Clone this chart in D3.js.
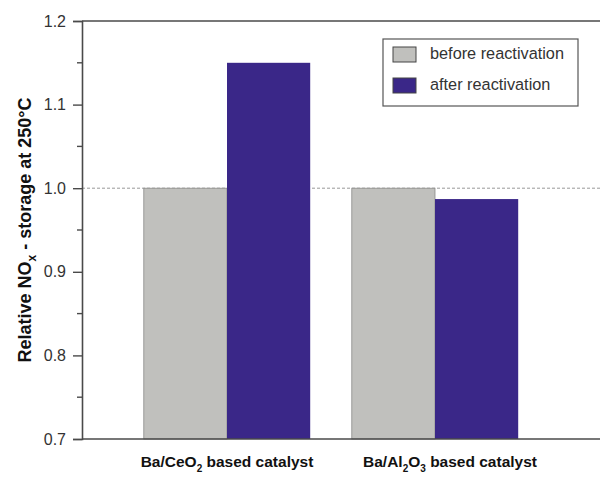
<!DOCTYPE html>
<html>
<head>
<meta charset="utf-8">
<script src="https://cdn.jsdelivr.net/npm/d3@7"></script>
<style>
  body { margin: 0; background: #fff; }
  svg { font-family: "Liberation Sans", Arial, sans-serif; }
</style>
</head>
<body>
<svg width="600" height="483"></svg>
<script>
// data
let catalysts = ["Ba/CeO2", "Ba/Al2O3"];
let series = ["before reactivation", "after reactivation"];
let before = [1.0, 1.0];
let after = [1.15, 0.987];
let yTicks = [0.7, 0.8, 0.9, 1.0, 1.1, 1.2];
let yMinorTicks = [0.75, 0.85, 0.95, 1.05, 1.15];

let colors = { "before reactivation": "#c0c0bd", "after reactivation": "#3a2788" };

let svg = d3.select("svg");

let margin = { top: 21, right: 0, bottom: 44, left: 82 };
let width = 600, height = 483;
let plotHeight = height - margin.top - margin.bottom;

// y scale
let y = d3.scaleLinear()
  .domain([0.7, 1.2])
  .range([height - margin.bottom, margin.top]);

// group scale and series scale
let x = d3.scaleBand()
  .domain(catalysts)
  .range([123, 539])
  .paddingInner(0.2)
  .paddingOuter(0.1);

let xs = d3.scaleBand()
  .domain(series)
  .range([0, x.bandwidth()])
  .padding(0);

// reference dashed line at 1.0
svg.append("line")
  .attr("x1", margin.left).attr("x2", width)
  .attr("y1", y(1.0)).attr("y2", y(1.0))
  .attr("stroke", "#999")
  .attr("stroke-width", 1)
  .attr("stroke-dasharray", "3,2");

// bars
let rows = catalysts.map((c, i) => ({ cat: c, values: [before[i], after[i]] }));

let groups = svg.append("g").selectAll("g")
  .data(rows)
  .join("g")
  .attr("transform", d => "translate(" + x(d.cat) + ",0)");

groups.selectAll("rect")
  .data(d => d.values.map((v, j) => ({ s: series[j], v: v })))
  .join("rect")
  .attr("x", d => xs(d.s))
  .attr("width", xs.bandwidth())
  .attr("y", d => y(d.v))
  .attr("height", d => y(0.7) - y(d.v))
  .attr("fill", d => colors[d.s])
  .attr("stroke", d => d.s == series[0] ? "#8a8a88" : "none")
  .attr("stroke-width", 0.8);

// y axis
let yAxis = d3.axisLeft(y)
  .tickValues(yTicks)
  .tickFormat(d3.format(".1f"))
  .tickSize(9)
  .tickPadding(7);

let yGroup = svg.append("g")
  .attr("transform", "translate(" + margin.left + ",0)")
  .call(yAxis);

yGroup.select(".domain").attr("stroke", "#4a4a4a").attr("stroke-width", 1.6);
yGroup.selectAll(".tick line").attr("stroke", "#4a4a4a").attr("stroke-width", 1.4);
yGroup.selectAll(".tick text")
  .attr("font-size", 16)
  .attr("fill", "#333")
  .attr("font-family", "Liberation Sans, Arial, sans-serif");

// minor ticks
svg.append("g").selectAll("line")
  .data(yMinorTicks)
  .join("line")
  .attr("x1", margin.left - 5).attr("x2", margin.left)
  .attr("y1", d => y(d)).attr("y2", d => y(d))
  .attr("stroke", "#4a4a4a")
  .attr("stroke-width", 1.4);

// top frame and bottom axis line
svg.append("line")
  .attr("x1", margin.left).attr("x2", width)
  .attr("y1", y(1.2)).attr("y2", y(1.2))
  .attr("stroke", "#4a4a4a").attr("stroke-width", 1.6);

svg.append("line")
  .attr("x1", margin.left).attr("x2", width)
  .attr("y1", y(0.7)).attr("y2", y(0.7))
  .attr("stroke", "#4a4a4a").attr("stroke-width", 1.6);

// y label with subscript
let yLabel = svg.append("text")
  .attr("transform", "translate(31," + (margin.top + plotHeight / 2) + ") rotate(-90)")
  .attr("text-anchor", "middle")
  .attr("font-size", 18)
  .attr("font-weight", "bold")
  .attr("fill", "#111");
yLabel.append("tspan").text("Relative NO");
yLabel.append("tspan").attr("font-size", 12).attr("dy", 5).text("x");
yLabel.append("tspan").attr("dy", -5).text(" - storage at 250°C");

// x labels with subscripts
let labelParts = [
  [["Ba/CeO", 0], ["2", 1], [" based catalyst", 0]],
  [["Ba/Al", 0], ["2", 1], ["O", 0], ["3", 1], [" based catalyst", 0]]
];

svg.append("g").selectAll("text")
  .data(catalysts)
  .join("text")
  .attr("x", d => x(d) + x.bandwidth() / 2)
  .attr("y", 467)
  .attr("text-anchor", "middle")
  .attr("font-size", 15.5)
  .attr("font-weight", "bold")
  .attr("fill", "#111")
  .each(function(d, i) {
    let t = d3.select(this);
    if (i == 1) t.attr("dx", 15);
    let shifted = 0;
    labelParts[i].forEach(p => {
      let dy = p[1] - shifted;
      shifted = p[1];
      t.append("tspan")
        .attr("dy", dy * 5)
        .attr("font-size", p[1] ? 10 : 15.5)
        .text(p[0]);
    });
  });

// legend
let legend = svg.append("g");
legend.append("rect")
  .attr("x", 383).attr("y", 39)
  .attr("width", 195).attr("height", 67)
  .attr("fill", "#fff")
  .attr("stroke", "#555")
  .attr("stroke-width", 1.2);

let items = legend.selectAll("g")
  .data(series)
  .join("g")
  .attr("transform", (d, i) => "translate(393," + (47 + i * 31) + ")");

items.append("rect")
  .attr("width", 23).attr("height", 15)
  .attr("fill", d => colors[d])
  .attr("stroke", "#444")
  .attr("stroke-width", 1);

items.append("text")
  .attr("x", 37).attr("y", 12)
  .attr("font-size", 16.3)
  .attr("fill", "#333")
  .text(d => d);
</script>
</body>
</html>
